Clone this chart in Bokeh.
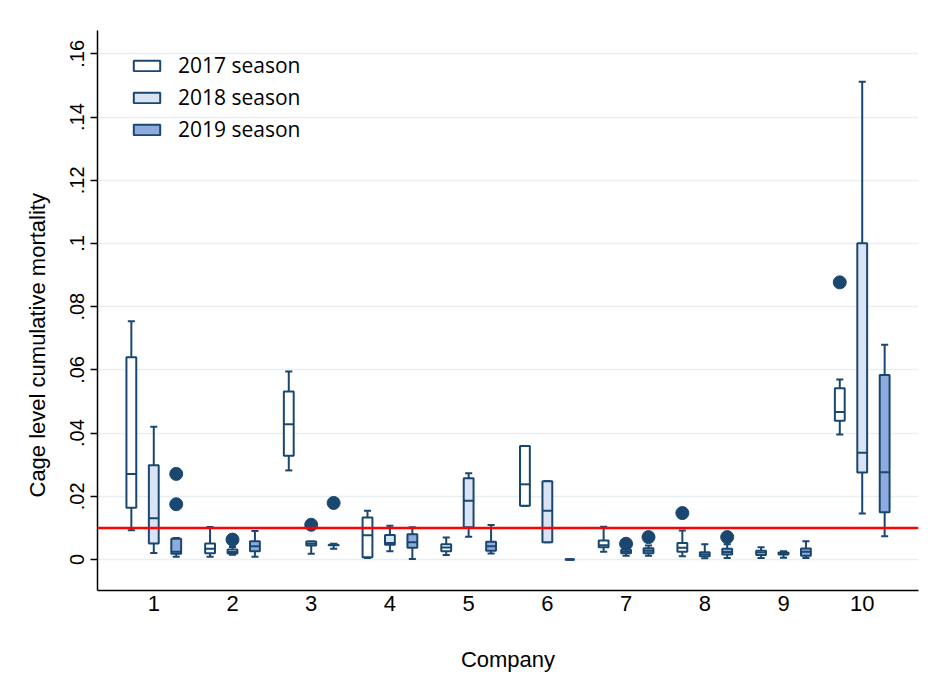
from bokeh.plotting import figure
from bokeh.models import ColumnDataSource, Span, Legend, LegendItem, FixedTicker, Title
from bokeh.transform import dodge
from bokeh.embed import file_html
from bokeh.resources import INLINE

# ---------------- data ----------------
companies = [1, 2, 3, 4, 5, 6, 7, 8, 9, 10]
company_labels = ["1", "2", "3", "4", "5", "6", "7", "8", "9", "10"]
seasons = ["2017 season", "2018 season", "2019 season"]
threshold = 0.01

y_ticks = [0, 0.02, 0.04, 0.06, 0.08, 0.10, 0.12, 0.14, 0.16]
y_tick_labels = ["0", ".02", ".04", ".06", ".08", ".1", ".12", ".14", ".16"]

# 2017 season
wlo_2017 = [0.0093, 0.0009, 0.0282, 0.0005, 0.0014, 0.0170, 0.0025, 0.0010, 0.0005, 0.0396]
q1_2017 = [0.0164, 0.0020, 0.0328, 0.0007, 0.0026, 0.0170, 0.0039, 0.0025, 0.0014, 0.0439]
med_2017 = [0.0271, 0.0034, 0.0428, 0.0077, 0.0038, 0.0238, 0.0045, 0.0037, 0.0022, 0.0467]
q3_2017 = [0.0640, 0.0051, 0.0532, 0.0133, 0.0048, 0.0359, 0.0060, 0.0052, 0.0028, 0.0542]
whi_2017 = [0.0754, 0.0103, 0.0595, 0.0154, 0.0070, 0.0359, 0.0104, 0.0092, 0.0039, 0.0570]

# 2018 season
wlo_2018 = [0.0021, 0.0015, 0.0018, 0.0026, 0.0072, 0.0055, 0.0012, 0.0004, 0.0006, 0.0146]
q1_2018 = [0.0051, 0.0019, 0.0044, 0.0047, 0.0102, 0.0055, 0.0020, 0.0010, 0.0016, 0.0275]
med_2018 = [0.0131, 0.0024, 0.0050, 0.0052, 0.0186, 0.0154, 0.0025, 0.0017, 0.0019, 0.0338]
q3_2018 = [0.0298, 0.0032, 0.0057, 0.0078, 0.0257, 0.0248, 0.0031, 0.0023, 0.0022, 0.1001]
whi_2018 = [0.0420, 0.0040, 0.0057, 0.0107, 0.0273, 0.0248, 0.0035, 0.0048, 0.0026, 0.1512]

# 2019 season
wlo_2019 = [0.0009, 0.0009, 0.0034, 0.0002, 0.0019, 0.0, 0.0012, 0.0005, 0.0005, 0.0074]
q1_2019 = [0.0018, 0.0026, 0.0045, 0.0037, 0.0028, 0.0, 0.0020, 0.0016, 0.0012, 0.0150]
med_2019 = [0.0025, 0.0042, 0.0046, 0.0055, 0.0042, 0.0, 0.0028, 0.0024, 0.0025, 0.0276]
q3_2019 = [0.0066, 0.0058, 0.0047, 0.0080, 0.0056, 0.0, 0.0036, 0.0034, 0.0035, 0.0584]
whi_2019 = [0.0068, 0.0090, 0.0050, 0.0102, 0.0109, 0.0, 0.0044, 0.0048, 0.0058, 0.0680]

# outside values
out_company = [1, 1, 2, 3, 3, 7, 7, 8, 8, 10]
out_season = [2019, 2019, 2018, 2018, 2019, 2018, 2019, 2017, 2019, 2017]
out_value = [0.0271, 0.0175, 0.0063, 0.0110, 0.0179, 0.0050, 0.0071, 0.0147, 0.0071, 0.0877]

x_title = "Company"
y_title = "Cage level cumulative mortality"

# ---------------- style ----------------
NAVY = "#1a476f"
FILLS = {2017: "#ffffff", 2018: "#dae3f3", 2019: "#8faadc"}
OFFSETS = {2017: -0.285, 2018: 0.0, 2019: 0.285}
BOX_W = 0.125
CAP_W = 0.09

p = figure(width=920, height=674, output_backend="svg", toolbar_location=None,
           x_range=(0.285, 10.715), y_range=(-0.0098, 0.1674),
           min_border_left=97, min_border_right=2, min_border_top=30, min_border_bottom=84)
p.outline_line_color = None
p.background_fill_color = "white"
p.border_fill_color = "white"

stats = {
    2017: (wlo_2017, q1_2017, med_2017, q3_2017, whi_2017),
    2018: (wlo_2018, q1_2018, med_2018, q3_2018, whi_2018),
    2019: (wlo_2019, q1_2019, med_2019, q3_2019, whi_2019),
}

legend_items = []
for yr in (2017, 2018, 2019):
    wlo, q1, med, q3, whi = stats[yr]
    off = OFFSETS[yr]
    src = ColumnDataSource(dict(company=companies, wlo=wlo, q1=q1, med=med, q3=q3, whi=whi))
    xc = dodge("company", off, range=p.x_range)
    # whiskers
    p.segment(x0=xc, y0="q3", x1=xc, y1="whi", source=src, line_color=NAVY, line_width=2)
    p.segment(x0=xc, y0="q1", x1=xc, y1="wlo", source=src, line_color=NAVY, line_width=2)
    # caps
    p.segment(x0=dodge("company", off - CAP_W / 2, range=p.x_range), y0="whi",
              x1=dodge("company", off + CAP_W / 2, range=p.x_range), y1="whi",
              source=src, line_color=NAVY, line_width=2)
    p.segment(x0=dodge("company", off - CAP_W / 2, range=p.x_range), y0="wlo",
              x1=dodge("company", off + CAP_W / 2, range=p.x_range), y1="wlo",
              source=src, line_color=NAVY, line_width=2)
    # box
    box = p.vbar(x=xc, width=BOX_W, bottom="q1", top="q3", source=src,
                 fill_color=FILLS[yr], line_color=NAVY, line_width=2)
    # median
    p.segment(x0=dodge("company", off - BOX_W / 2, range=p.x_range), y0="med",
              x1=dodge("company", off + BOX_W / 2, range=p.x_range), y1="med",
              source=src, line_color=NAVY, line_width=2)
    legend_items.append(LegendItem(label=f"{yr} season", renderers=[box]))

# outliers
osrc = ColumnDataSource(dict(company=out_company, season=out_season, value=out_value,
                             x=[c + OFFSETS[s] for c, s in zip(out_company, out_season)]))
p.scatter(x="x", y="value", source=osrc, size=13, marker="circle",
          fill_color=NAVY, line_color=NAVY)

# reference line
p.add_layout(Span(location=threshold, dimension="width", line_color="#ff0000", line_width=2.5))

# axes
p.xaxis.ticker = FixedTicker(ticks=companies)
p.xaxis.major_label_overrides = {c: l for c, l in zip(companies, company_labels)}
p.xaxis.major_tick_out = 0
p.xaxis.major_tick_in = 0
p.xaxis.minor_tick_out = 0
p.xaxis.minor_tick_in = 0
p.xaxis.major_label_standoff = 5
p.xaxis.axis_label = x_title
p.xaxis.axis_label_standoff = 33
p.xaxis.axis_label_text_font = "Liberation Sans"
p.xaxis.axis_label_text_font_size = "22px"
p.xaxis.axis_label_text_font_style = "normal"
p.xaxis.axis_label_text_color = "black"

p.yaxis.ticker = FixedTicker(ticks=y_ticks)
p.yaxis.major_label_overrides = {t: l for t, l in zip(y_ticks, y_tick_labels)}
p.yaxis.major_label_orientation = "vertical"
p.yaxis.major_tick_out = 7
p.yaxis.major_tick_in = 0
p.yaxis.minor_tick_out = 0
p.yaxis.minor_tick_in = 0
p.yaxis.major_label_standoff = 6

for ax in (p.xaxis, p.yaxis):
    ax.axis_line_color = "black"
    ax.axis_line_width = 1.5
    ax.major_tick_line_color = "black"
    ax.major_tick_line_width = 1.5
    ax.major_label_text_font = "Liberation Sans"
    ax.major_label_text_color = "black"
p.xaxis.major_label_text_font_size = "22px"
p.yaxis.major_label_text_font_size = "20px"

# y title placed like the original (starts lower than centre)
p.add_layout(Title(text=y_title, align="left", offset=93, standoff=33, vertical_align="middle",
                   text_font="Liberation Sans", text_font_size="22px",
                   text_font_style="normal", text_color="black"), "left")

p.xgrid.grid_line_color = None
p.ygrid.ticker = FixedTicker(ticks=y_ticks)
p.ygrid.grid_line_color = "#e8eff2"
p.ygrid.grid_line_width = 1.5

legend = Legend(items=legend_items, location=(33, 447), orientation="vertical")
legend.glyph_width = 33
legend.glyph_height = 13
legend.label_standoff = 15
legend.spacing = 4
legend.padding = 0
legend.margin = 0
legend.border_line_color = None
legend.background_fill_alpha = 0
legend.label_text_font = "Open Sans"
legend.label_text_font_size = "21px"
legend.label_text_color = "black"
p.add_layout(legend)

open("out.html", "w").write(file_html(p, INLINE))
